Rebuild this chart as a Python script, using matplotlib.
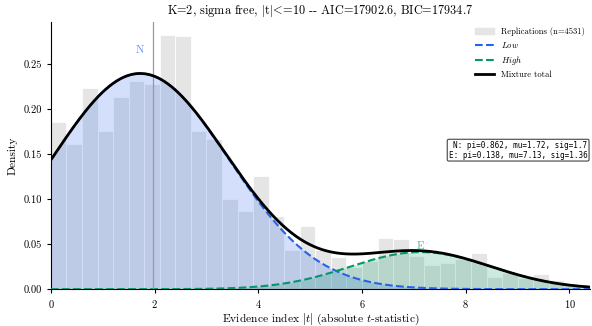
import math
import numpy as np
import matplotlib
matplotlib.use("Agg")
import matplotlib.pyplot as plt
from matplotlib.patches import Patch
from matplotlib.lines import Line2D

plt.rcParams["font.family"] = ["cmr10", "DejaVu Serif"]
plt.rcParams["mathtext.fontset"] = "cm"
plt.rcParams["axes.formatter.use_mathtext"] = True

# Histogram of |t| (density), bins of width 0.3
bin_width = 0.3
bin_left = np.arange(0, 10.2, bin_width)
hist_density = [0.186, 0.161, 0.224, 0.176, 0.213, 0.231, 0.228, 0.282, 0.281, 0.176,
                0.167, 0.100, 0.087, 0.126, 0.081, 0.043, 0.070, 0.044, 0.036, 0.025,
                0.031, 0.057, 0.056, 0.037, 0.027, 0.029, 0.033, 0.040, 0.014, 0.018,
                0.012, 0.017, 0.010, 0.005]

# Fitted mixture components (from the text box)
comp_names = ["N", "E"]
comp_pi = [0.862, 0.138]
comp_mu = [1.72, 7.13]
comp_sig = [1.70, 1.36]
label_y = [0.266, 0.048]
t_max = 10.0
n_reps = 4531
aic, bic = 17902.6, 17934.7

BLUE = "#2563eb"
GREEN = "#059669"


def phi_cdf(z):
    return 0.5 * (1 + math.erf(z / math.sqrt(2)))


def comp_density(x, pi, mu, sig):
    norm = phi_cdf((t_max - mu) / sig) - phi_cdf((0 - mu) / sig)
    pdf = np.exp(-0.5 * ((x - mu) / sig) ** 2) / (sig * math.sqrt(2 * math.pi))
    return pi * pdf / norm


x = np.linspace(0, 10.4, 600)
low = comp_density(x, comp_pi[0], comp_mu[0], comp_sig[0])
high = comp_density(x, comp_pi[1], comp_mu[1], comp_sig[1])
total = low + high

fig = plt.figure(figsize=(5.92, 3.26), dpi=100)
ax = fig.add_axes([0.086, 0.113, 0.911, 0.82])

ax.bar(bin_left, hist_density, width=bin_width, align="edge", color="#e5e5e5",
       edgecolor="white", linewidth=0.6, zorder=1)

ax.fill_between(x, 0, low, color=BLUE, alpha=0.2, lw=0, zorder=2)
ax.fill_between(x, 0, high, color=GREEN, alpha=0.2, lw=0, zorder=2)
ax.plot(x, low, color=BLUE, ls="--", lw=1.5, zorder=3)
ax.plot(x, high, color=GREEN, ls="--", lw=1.5, zorder=3)
ax.plot(x, total, color="black", lw=2.0, zorder=4)

ax.axvline(1.96, color="#999999", lw=0.9, zorder=3)

for name, mu, ly, col in zip(comp_names, comp_mu, label_y, [BLUE, GREEN]):
    ax.text(mu, ly, name, color=col, alpha=0.7, fontsize=8, ha="center", va="center")

box_txt = (f"N: pi={comp_pi[0]:.3f}, mu={comp_mu[0]:.2f}, sig={comp_sig[0]:.1f}\n"
           f"E: pi={comp_pi[1]:.3f}, mu={comp_mu[1]:.2f}, sig={comp_sig[1]:.2f}")
ax.text(0.995, 0.52, box_txt, transform=ax.transAxes, ha="right", va="center",
        fontsize=5.5, family="DejaVu Sans Mono", linespacing=1.1,
        bbox=dict(boxstyle="round,pad=0.2", fc="white", ec="#444444", lw=0.8))

handles = [Patch(color="#e5e5e5", label=f"Replications (n={n_reps})"),
           Line2D([], [], color=BLUE, ls="--", lw=1.5, label="$Low$"),
           Line2D([], [], color=GREEN, ls="--", lw=1.5, label="$High$"),
           Line2D([], [], color="black", lw=2.0, label="Mixture total")]
ax.legend(handles=handles, loc="upper right", fontsize=6.2, frameon=False,
          handlelength=2.2, borderaxespad=0.2, labelspacing=0.45)

ax.set_xlim(0, 10.4)
ax.set_ylim(0, 0.297)
ax.set_xticks([0, 2, 4, 6, 8, 10])
ax.set_yticks([0, 0.05, 0.10, 0.15, 0.20, 0.25])
ax.set_yticklabels(["0.00", "0.05", "0.10", "0.15", "0.20", "0.25"])
ax.tick_params(labelsize=7.5, length=3)
ax.spines["top"].set_visible(False)
ax.spines["right"].set_visible(False)
ax.set_xlabel(r"Evidence index $|t|$ (absolute $t$-statistic)", fontsize=8.3, labelpad=1)
ax.set_ylabel("Density", fontsize=8.3)
ax.set_title(f"K=2, sigma free, $|$t$|\\!{{<}}\\!$=10 -- AIC={aic}, BIC={bic}", fontsize=8.8)

fig.savefig("out.png", dpi=100)
